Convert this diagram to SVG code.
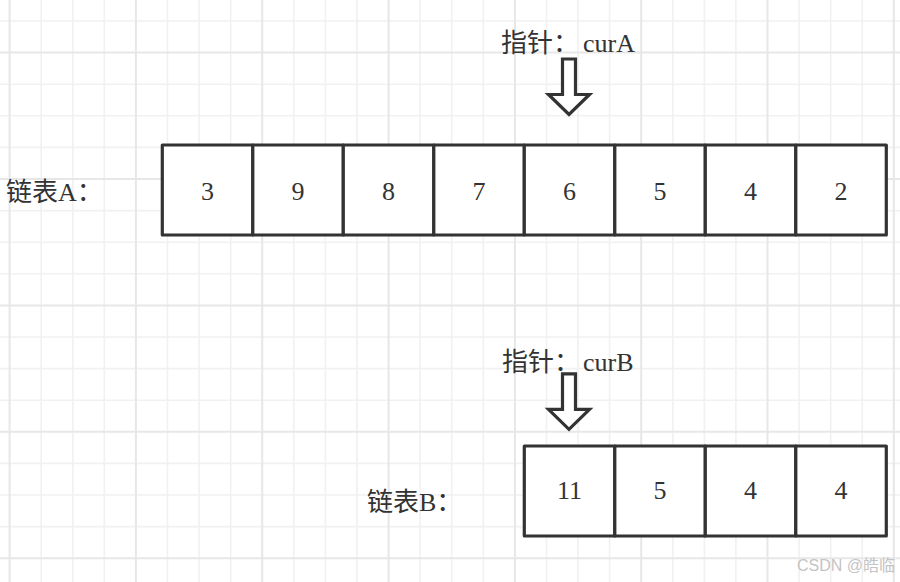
<svg xmlns="http://www.w3.org/2000/svg" width="900" height="582" viewBox="0 0 900 582">
<style>
.minor{stroke:#f1f1f1;stroke-width:1.6;fill:none}
.major{stroke:#e7e7e7;stroke-width:2;fill:none}
.cell rect{fill:#fff;stroke:#333;stroke-width:3.2;stroke-linejoin:round}
.cell text{font-family:"Liberation Serif","Noto Sans CJK SC",serif;font-size:26px;fill:#333;text-anchor:middle}
.lbl{font-family:"Liberation Serif","Noto Sans CJK SC",serif;font-size:26px;fill:#333}
.arrow{fill:#fff;stroke:#333;stroke-width:3.2;stroke-linejoin:miter}
.wm{font-family:"Liberation Sans","Noto Sans CJK SC",sans-serif;font-size:16px;fill:#c4c4c4}
</style>
<rect x="0" y="0" width="900" height="582" fill="#fff"/>
<g id="grid">
<path class="minor" d="M41.2 0V582M72.8 0V582M104.3 0V582M167.5 0V582M199.1 0V582M230.7 0V582M293.8 0V582M325.4 0V582M357 0V582M420.1 0V582M451.7 0V582M483.3 0V582M546.5 0V582M578 0V582M609.6 0V582M672.8 0V582M704.4 0V582M735.9 0V582M799.1 0V582M830.7 0V582M862.3 0V582M0 21H900M0 84.2H900M0 115.8H900M0 147.4H900M0 210.6H900M0 242.2H900M0 273.8H900M0 337H900M0 368.6H900M0 400.2H900M0 463.4H900M0 495H900M0 526.6H900"/>
<path class="major" d="M9.6 0V582M135.9 0V582M262.2 0V582M388.6 0V582M514.9 0V582M641.2 0V582M767.5 0V582M893.8 0V582M0 52.6H900M0 179H900M0 305.4H900M0 431.8H900M0 558.2H900"/>
</g>
<g id="labels">
<text id="label-pointer-a" class="lbl" x="501" y="52">指针：<tspan x="583">curA</tspan></text>
<text id="label-list-a" class="lbl" x="6" y="201">链表A：</text>
<text id="label-pointer-b" class="lbl" x="502" y="371">指针：<tspan x="583">curB</tspan></text>
<text id="label-list-b" class="lbl" x="367" y="511">链表B：</text>
</g>
<g id="list-a">
<g id="a0" class="cell"><rect x="162.3" y="145" width="90.5" height="90"/><text x="207.5" y="199.5">3</text></g>
<g id="a1" class="cell"><rect x="252.8" y="145" width="90.5" height="90"/><text x="298" y="199.5">9</text></g>
<g id="a2" class="cell"><rect x="343.3" y="145" width="90.5" height="90"/><text x="388.5" y="199.5">8</text></g>
<g id="a3" class="cell"><rect x="433.8" y="145" width="90.5" height="90"/><text x="479" y="199.5">7</text></g>
<g id="a4" class="cell"><rect x="524.3" y="145" width="90.5" height="90"/><text x="569.5" y="199.5">6</text></g>
<g id="a5" class="cell"><rect x="614.8" y="145" width="90.5" height="90"/><text x="660" y="199.5">5</text></g>
<g id="a6" class="cell"><rect x="705.3" y="145" width="90.5" height="90"/><text x="750.5" y="199.5">4</text></g>
<g id="a7" class="cell"><rect x="795.8" y="145" width="90.5" height="90"/><text x="841" y="199.5">2</text></g>
</g>
<g id="list-b">
<g id="b0" class="cell"><rect x="524.3" y="446" width="90.5" height="90"/><text x="569.5" y="498.5">11</text></g>
<g id="b1" class="cell"><rect x="614.8" y="446" width="90.5" height="90"/><text x="660" y="498.5">5</text></g>
<g id="b2" class="cell"><rect x="705.3" y="446" width="90.5" height="90"/><text x="750.5" y="498.5">4</text></g>
<g id="b3" class="cell"><rect x="795.8" y="446" width="90.5" height="90"/><text x="841" y="498.5">4</text></g>
</g>
<g id="connectors">
<path id="arrow-a" class="arrow" d="M562.5 59H575.5V94.5H589.5L569 114.5L548.5 94.5H562.5Z"/>
<path id="arrow-b" class="arrow" d="M562.5 373.8H575.5V409.3H589.5L569 429.3L548.5 409.3H562.5Z"/>
</g>
<text id="watermark" class="wm" x="797" y="571">CSDN @皓临</text>
</svg>
